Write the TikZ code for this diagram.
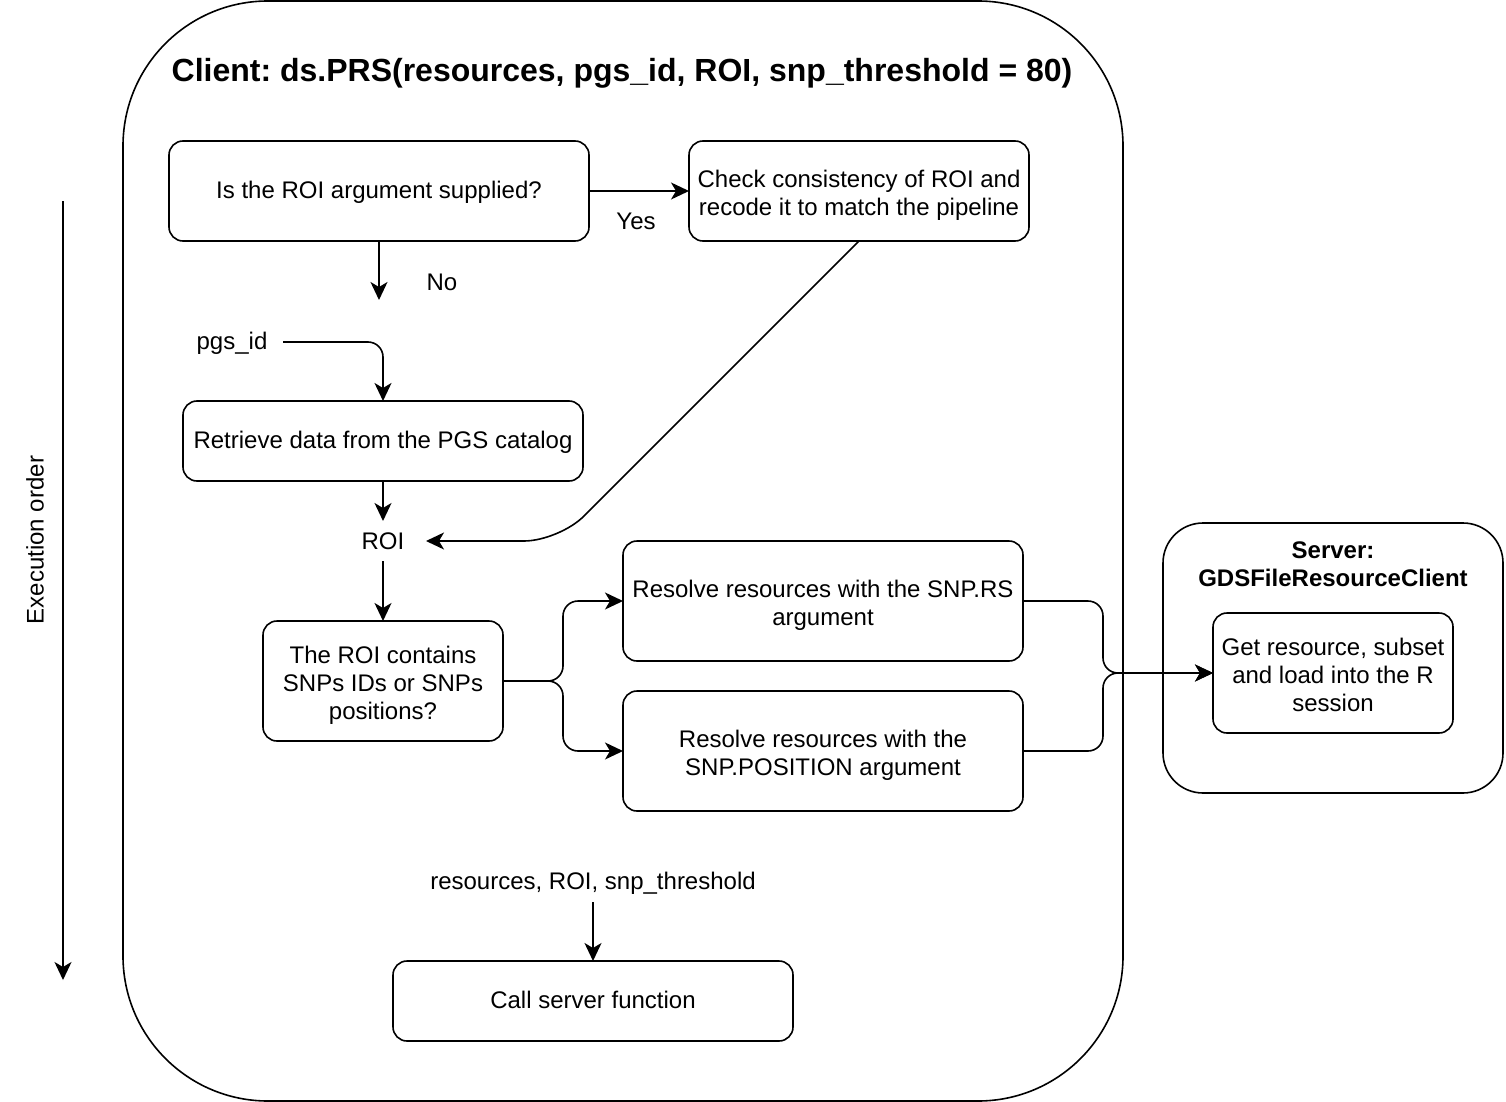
\documentclass[tikz,border=0pt]{standalone}
\usepackage{fontspec}
\setmainfont{Liberation Sans}
\usetikzlibrary{arrows.meta}
\frenchspacing
\newcommand{\lowtext}[2][4pt]{\raisebox{-#1}[\height][\depth]{\begin{tabular}{@{}c@{}}#2\end{tabular}}}
\begin{document}
\begin{tikzpicture}[x=1pt,y=-1pt,
  every node/.style={font=\fontsize{24}{28}\selectfont, inner sep=0pt, outer sep=0pt},
  box/.style={draw, line width=1.6pt, rounded corners=14pt, align=center},
  lbl/.style={align=center},
  conn/.style={line width=1.6pt, -{Stealth[length=18pt,width=17pt,inset=5pt]}},
  line/.style={line width=1.6pt},
  ttl/.style={font=\fontsize{32}{38}\selectfont\bfseries},
  sttl/.style={font=\fontsize{24}{28}\selectfont\bfseries, align=center}
]
\useasboundingbox (0,0) rectangle (1506,1102);
% containers
\draw[line, rounded corners=145pt] (123,1) rectangle (1123,1101);
\draw[line, rounded corners=40pt] (1163,523) rectangle (1503,793);
\node[ttl] (title) at (622,73) {Client: ds.PRS(resources, pgs\_id, ROI, snp\_threshold = 80)};
\node[sttl] (stitle) at (1333,564) {Server:\\GDSFileResourceClient};
% boxes
\node[box, minimum width=420pt, minimum height=100pt] (b1) at (379,191) {\lowtext[2pt]{Is the ROI argument supplied?}};
\node[box, minimum width=340pt, minimum height=100pt] (b2) at (859,191) {\lowtext[5pt]{Check consistency of ROI and\\recode it to match the pipeline}};
\node[box, minimum width=400pt, minimum height=80pt] (b3) at (383,441) {\lowtext[2pt]{Retrieve data from the PGS catalog}};
\node[box, minimum width=240pt, minimum height=120pt] (b4) at (383,681) {\lowtext[5pt]{The ROI contains\\SNPs IDs or SNPs\\positions?}};
\node[box, minimum width=400pt, minimum height=120pt] (b5) at (823,601) {\lowtext[5pt]{Resolve resources with the SNP.RS\\argument}};
\node[box, minimum width=400pt, minimum height=120pt] (b6) at (823,751) {\lowtext[5pt]{Resolve resources with the\\SNP.POSITION argument}};
\node[box, minimum width=240pt, minimum height=120pt] (b7) at (1333,673) {\lowtext[5pt]{Get resource, subset\\and load into the R\\session}};
\node[box, minimum width=400pt, minimum height=80pt] (b8) at (593,1001) {\lowtext[2pt]{Call server function}};
% labels / free text
\node[lbl] (yes) at (636,221) {Yes};
\node[lbl] (no) at (442,282) {No};
\node[lbl] (pgs) at (232,343) {pgs\_id};
\coordinate (pgsout) at (283,342);
\node[lbl, minimum width=86pt, minimum height=40pt] (roi) at (383,541) {ROI};
\node[lbl, minimum height=40pt] (args) at (593,882) {\lowtext[2pt]{resources, ROI, snp\_threshold}};
\node[lbl, rotate=90] (exec) at (35,540) {Execution order};
\coordinate (nodown) at (379,300);
\coordinate (ts) at (63,201);
\coordinate (te) at (63,980);
% connectors
\draw[conn] (b1.east) -- (b2.west);
\draw[conn] (b1.south) -- (nodown);
\draw[conn, rounded corners=15pt] (pgsout) -| (b3.north);
\draw[conn] (b3.south) -- (roi.north);
\draw[conn, rounded corners=35pt] (b2.south) -- (559,541) -- (roi.east);
\draw[conn] (roi.south) -- (b4.north);
\draw[conn, rounded corners=15pt] (b4.east) -- ++(60,0) |- (b5.west);
\draw[conn, rounded corners=15pt] (b4.east) -- ++(60,0) |- (b6.west);
\draw[conn, rounded corners=15pt] (b5.east) -- ++(80,0) |- (b7.west);
\draw[conn, rounded corners=15pt] (b6.east) -- ++(80,0) |- (b7.west);
\draw[conn] (args.south) -- (b8.north);
\draw[conn] (ts) -- (te);
\end{tikzpicture}
\end{document}
